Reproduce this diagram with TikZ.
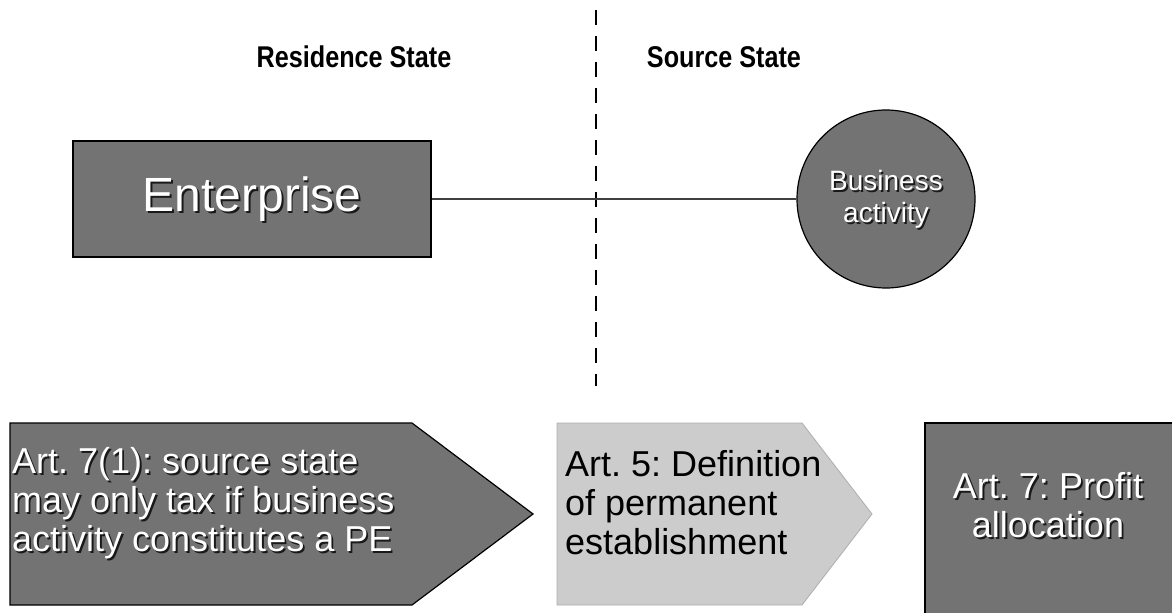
\documentclass[tikz,border=0pt]{standalone}
\usepackage{fontspec}
\setmainfont{Liberation Sans}
\newfontfamily\condfont[FakeStretch=0.84]{Liberation Sans}
\usetikzlibrary{calc}
\definecolor{dk}{gray}{0.45}
\definecolor{lt}{gray}{0.80}
\newcommand{\stxt}[5]{%
  \node[#3, text=black!90] (#1s) at ($(#2)+(1.8,1.8)$) {#4};
  \node[#3, text=#5] (#1) at (#2) {#4};}
\begin{document}
\frenchspacing
\begin{tikzpicture}[x=1bp,y=-1bp,
  shapebox/.style={draw=black, line width=1.2bp, fill=dk},
  title/.style={font=\condfont\fontsize{30bp}{34bp}\selectfont\bfseries, inner sep=0},
  big/.style={font=\fontsize{48bp}{52bp}\selectfont, inner sep=0},
  mid/.style={font=\fontsize{36bp}{39bp}\selectfont, inner sep=0},
  small/.style={font=\fontsize{28bp}{32bp}\selectfont, inner sep=0, align=center},
  link/.style={line width=1.2bp, black!75},
  divider/.style={line width=2.8bp, dash pattern=on 15bp off 11bp}]
\useasboundingbox (0,0) rectangle (1172,613);
\fill[white] (0,0) rectangle (1172,613);
% divider
\coordinate (dtop) at (596,10);
\coordinate (dbot) at (596,386);
\draw[divider] (dtop) -- (dbot);
% titles
\node[title] (res) at (354,57) {Residence State};
\node[title] (src) at (724,57) {Source State};
% enterprise
\node[shapebox, minimum width=358bp, minimum height=116bp, inner sep=0] (ent) at (252,199) {};
\stxt{entt}{ent.center}{big}{Enterprise}{white}
% business activity
\node[shapebox, circle, minimum size=178bp, inner sep=0] (ba) at (886,199) {};
\stxt{bat}{ba.center}{small}{Business\\activity}{white}
\draw[link] (ent.east) -- (ba.west);
% bottom arrows
\draw[shapebox] (10,423) -- (412,423) -- (533,514) -- (412,605) -- (10,605) -- cycle;
\coordinate (a1) at (12,503);
\stxt{a1t}{a1}{mid, anchor=west, align=left}{Art. 7(1): source state\\may only tax if business\\activity constitutes a PE}{white}
\draw[draw=lt!85!black, line width=0.8bp, fill=lt] (557,423) -- (802,423) -- (872,514) -- (802,605) -- (557,605) -- cycle;
\coordinate (a2) at (565,503);
\node[mid, anchor=west, align=left, text=black] (a2t) at (a2) {Art. 5: Definition\\of permanent\\establishment};
\draw[shapebox] (925,423) -- (1175,423) -- (1175,616) -- (925,616) -- cycle;
\coordinate (a3) at (1048,505);
\stxt{a3t}{a3}{mid, align=center}{Art. 7: Profit\\allocation}{white}
\end{tikzpicture}
\end{document}
